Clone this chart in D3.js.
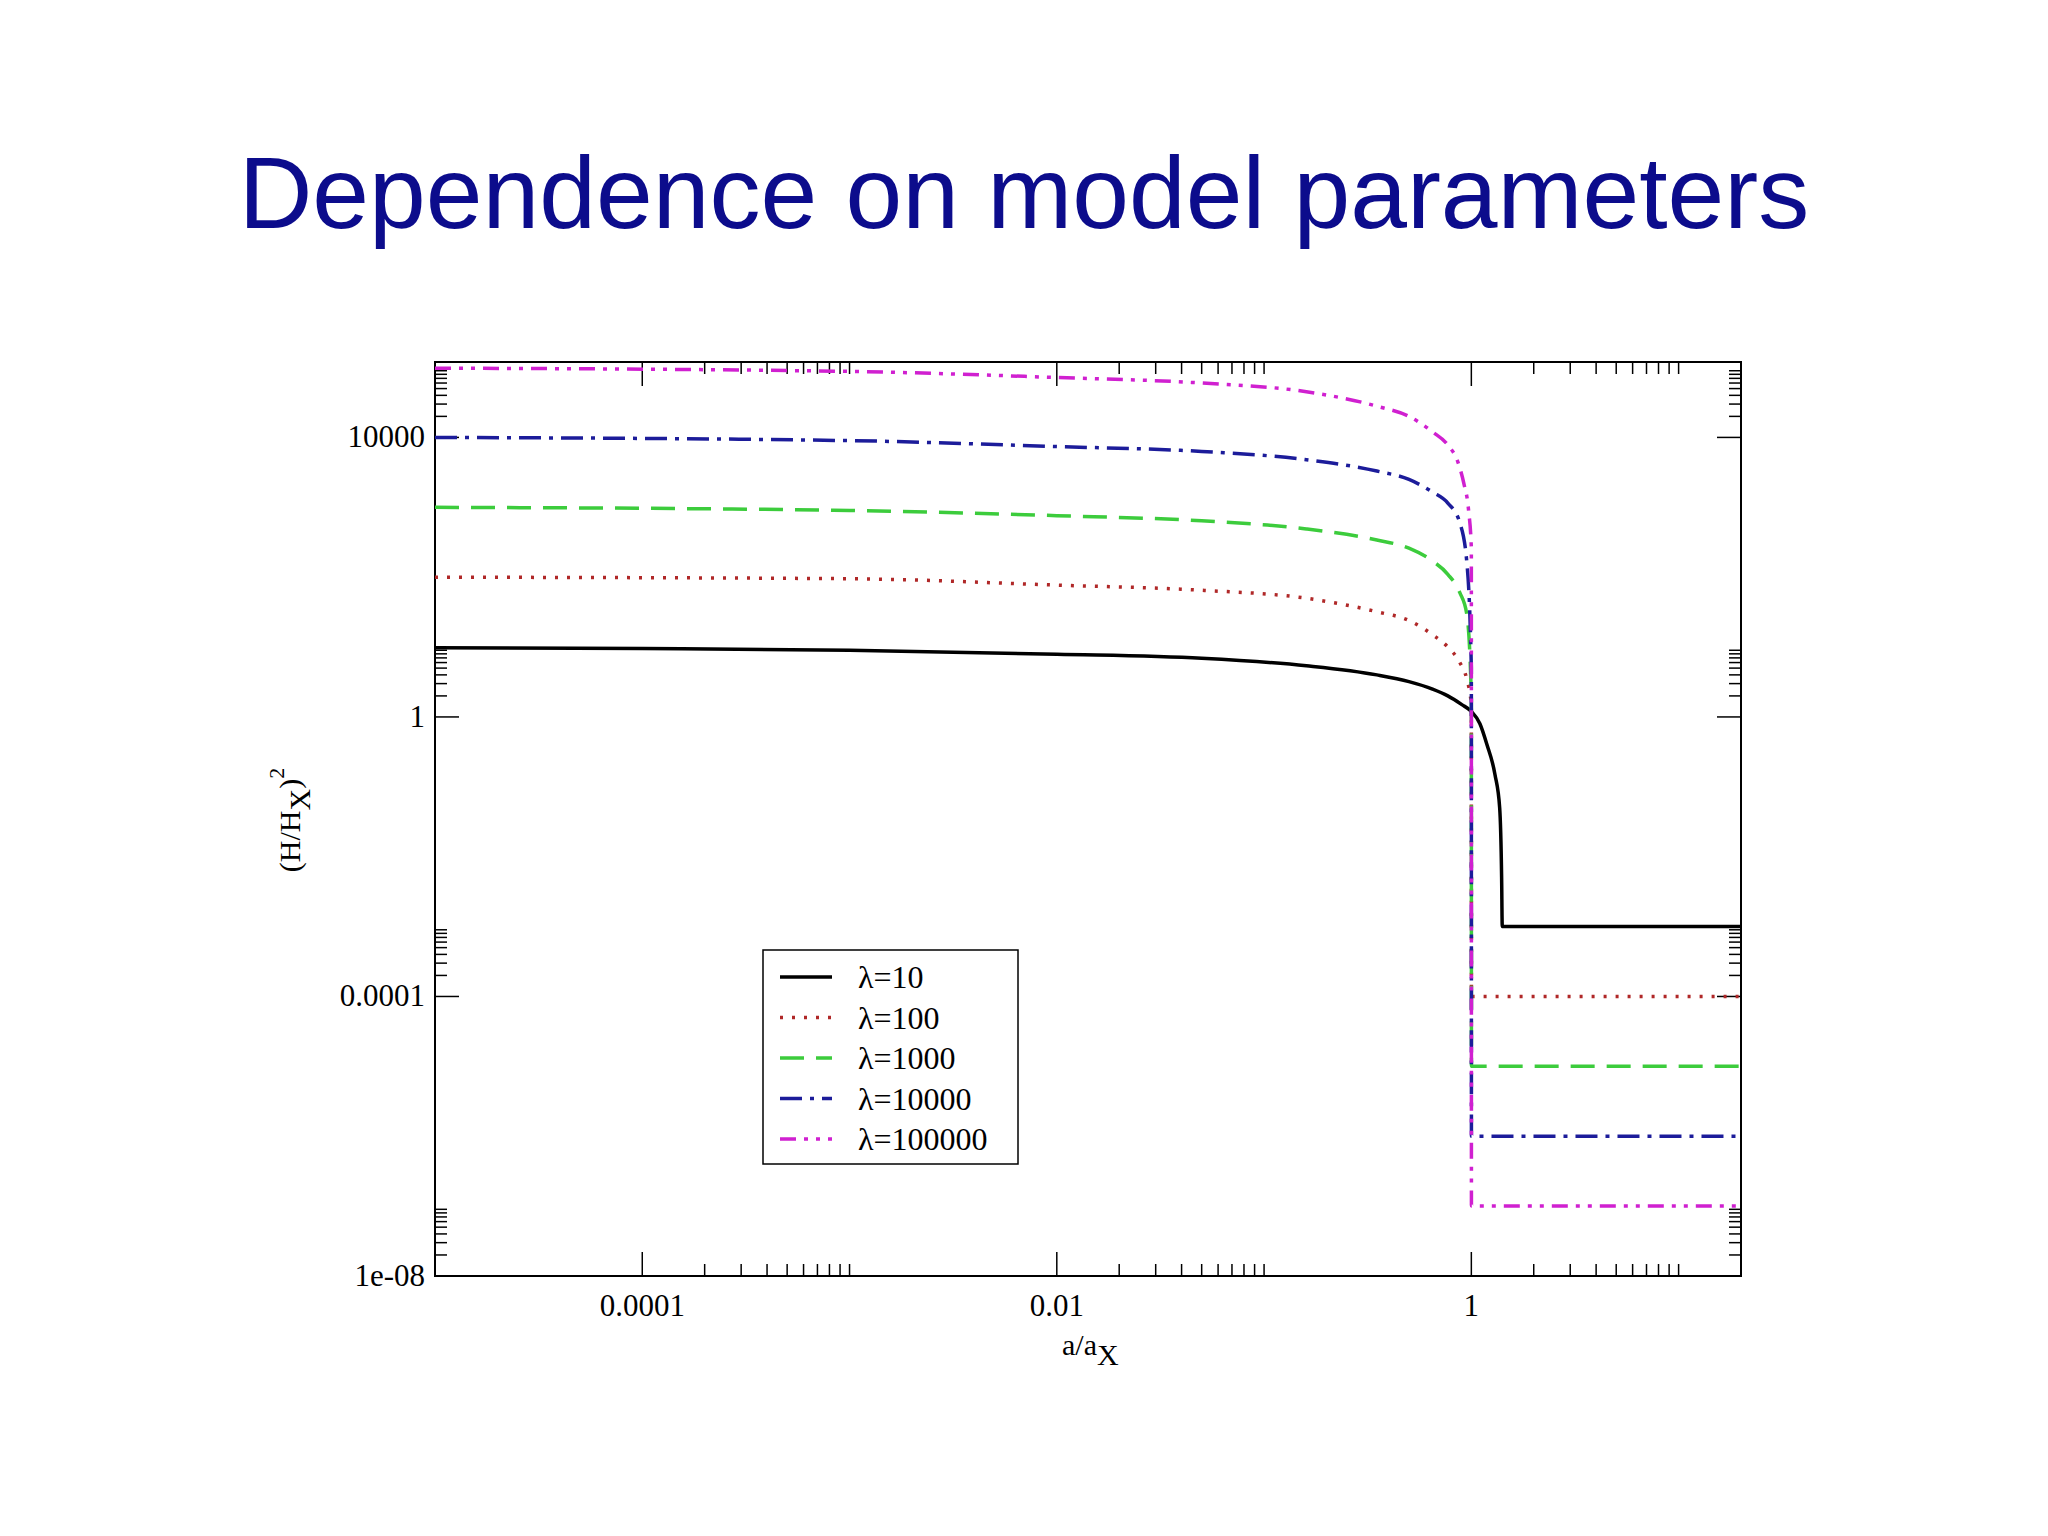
<!DOCTYPE html>
<html><head><meta charset="utf-8">
<script src="https://cdn.jsdelivr.net/npm/d3@7"></script>
<style>body{margin:0;background:#fff}</style>
</head><body>
<svg id="c" width="2048" height="1536"></svg>
<script>
// values (a/ax , (H/Hx)^2)
const lambdas = ["λ=10", "λ=100", "λ=1000", "λ=10000", "λ=100000"]
const colors = ["#000000", "#b02828", "#3ccc3c", "#1c1c9a", "#d020d0"]
const dashes = ["none", "3,9", "24,12", "22,8,4,8", "16,8,4,8,4,8"]
const xs10 = [1e-5, 1e-4, 1e-3, 0.01, 0.05, 0.16, 0.35, 0.5, 0.65, 0.77, 0.9, 1.0, 1.1, 1.19, 1.3, 1.37, 1.4, 1.41, 20]
const ys10 = [9.8, 9.5, 9.0, 7.9, 6.9, 5.4, 4.0, 3.2, 2.5, 2.0, 1.5, 1.2, 0.8, 0.4, 0.15, 0.05, 0.005, 1e-3, 1e-3]
const xs100 = [1e-5, 1e-3, 0.01, 0.05, 0.16, 0.35, 0.5, 0.65, 0.77, 0.88, 0.95, 1.0, 1.001, 20]
const ys100 = [100, 95, 77, 65, 50, 32, 24, 15, 10, 6, 3.5, 1.5, 1e-4, 1e-4]
const xs1000 = [1e-5, 1e-3, 0.01, 0.05, 0.16, 0.35, 0.5, 0.65, 0.77, 0.88, 0.95, 1.0, 1.001, 20]
const ys1000 = [1000, 900, 760, 640, 490, 340, 260, 170, 110, 60, 30, 2, 1e-5, 1e-5]
const xs1e4 = [1e-5, 1e-3, 0.01, 0.05, 0.16, 0.35, 0.5, 0.65, 0.77, 0.88, 0.95, 1.0, 1.001, 20]
const ys1e4 = [10000, 9000, 7400, 6300, 4800, 3300, 2500, 1650, 1150, 600, 170, 5, 1e-6, 1e-6]
const xs1e5 = [1e-5, 1e-3, 0.01, 0.05, 0.16, 0.35, 0.5, 0.65, 0.77, 0.86, 0.92, 0.97, 1.0, 1.001, 20]
const ys1e5 = [98000, 88000, 72000, 60000, 45000, 28000, 20000, 12000, 7800, 4500, 2200, 900, 260, 1e-7, 1e-7]
const xTickLabels = [1e-4, 0.01, 1]
const yTickLabels = [1e-8, 1e-4, 1, 1e4]

const series = [[xs10, ys10], [xs100, ys100], [xs1000, ys1000], [xs1e4, ys1e4], [xs1e5, ys1e5]]

const svg = d3.select("#c")
const L = 435, R = 1741, T = 362, B = 1276
const x = d3.scaleLog().domain([1e-5, 20]).range([L, R])
const y = d3.scaleLog().domain([1e-8, 1.2e5]).range([B, T])

svg.append("text").attr("x", 1024).attr("y", 228).attr("text-anchor", "middle")
  .attr("font-family", "Liberation Sans, Arial").attr("font-size", 102).attr("fill", "#0c0c8c")
  .text("Dependence on model parameters")

svg.append("rect").attr("x", L).attr("y", T).attr("width", R - L).attr("height", B - T)
  .attr("fill", "none").attr("stroke", "#000").attr("stroke-width", 2)

// ticks (inward, mirrored); minor ticks only in the decade right after each major
const serif = "Liberation Serif, DejaVu Serif, serif"
const decX = d3.range(-5, 2), decY = d3.range(-8, 6)
decX.forEach(k => d3.range(1, 10).forEach(m => {
  const v = m * Math.pow(10, k); if (v < 1e-5 || v > 20) return
  const major = m === 1 && k % 2 === 0
  if (!major && (k % 2 !== 0 && m > 1)) return
  const len = major ? 24 : 12
  svg.append("line").attr("x1", x(v)).attr("x2", x(v)).attr("y1", B).attr("y2", B - len).attr("stroke", "#000").attr("stroke-width", 1.5)
  svg.append("line").attr("x1", x(v)).attr("x2", x(v)).attr("y1", T).attr("y2", T + len).attr("stroke", "#000").attr("stroke-width", 1.5)
}))
decY.forEach(k => d3.range(1, 10).forEach(m => {
  const v = m * Math.pow(10, k); if (v < 1e-8 || v > 1.2e5) return
  const major = m === 1 && k % 4 === 0
  if (!major && (k % 4 !== 0 || m === 1)) return
  const len = major ? 24 : 12
  svg.append("line").attr("y1", y(v)).attr("y2", y(v)).attr("x1", L).attr("x2", L + len).attr("stroke", "#000").attr("stroke-width", 1.5)
  svg.append("line").attr("y1", y(v)).attr("y2", y(v)).attr("x1", R).attr("x2", R - len).attr("stroke", "#000").attr("stroke-width", 1.5)
}))
xTickLabels.forEach(v => svg.append("text").attr("x", x(v)).attr("y", B + 40).attr("text-anchor", "middle")
  .attr("font-family", serif).attr("font-size", 31).text(String(v)))
const yfmt = v => v === 1e-8 ? "1e-08" : String(v)
yTickLabels.forEach(v => svg.append("text").attr("x", L - 10).attr("y", y(v) + 10).attr("text-anchor", "end")
  .attr("font-family", serif).attr("font-size", 31).text(yfmt(v)))

// axis labels
const xl = svg.append("text").attr("x", 1062).attr("y", 1355).attr("font-family", serif).attr("font-size", 30)
xl.append("tspan").text("a/a")
xl.append("tspan").attr("dy", 10).text("X")
const yl = svg.append("text").attr("transform", "translate(300,820) rotate(-90)").attr("text-anchor", "middle")
  .attr("font-family", serif).attr("font-size", 30)
yl.append("tspan").text("(H/H")
yl.append("tspan").attr("dy", 10).text("X")
yl.append("tspan").attr("dy", -10).text(")")
yl.append("tspan").attr("dy", -16).attr("font-size", 22).text("2")

// curves
const line = d3.line().x(d => x(d[0])).y(d => y(d[1])).curve(d3.curveMonotoneX)
series.forEach((s, i) => {
  const pts = s[0].map((v, j) => [v, s[1][j]])
  svg.append("path").attr("d", line(pts)).attr("fill", "none").attr("stroke", colors[i])
    .attr("stroke-width", 3.5).attr("stroke-dasharray", dashes[i])
})

// legend
svg.append("rect").attr("x", 763).attr("y", 950).attr("width", 255).attr("height", 214)
  .attr("fill", "#fff").attr("stroke", "#000").attr("stroke-width", 1.5)
lambdas.forEach((t, i) => {
  const yy = 977 + i * 40.5
  svg.append("line").attr("x1", 780).attr("x2", 832).attr("y1", yy).attr("y2", yy)
    .attr("stroke", colors[i]).attr("stroke-width", 3.5).attr("stroke-dasharray", dashes[i])
  svg.append("text").attr("x", 858).attr("y", yy + 11).attr("font-family", serif).attr("font-size", 32).text(t)
})
</script>
</body></html>
